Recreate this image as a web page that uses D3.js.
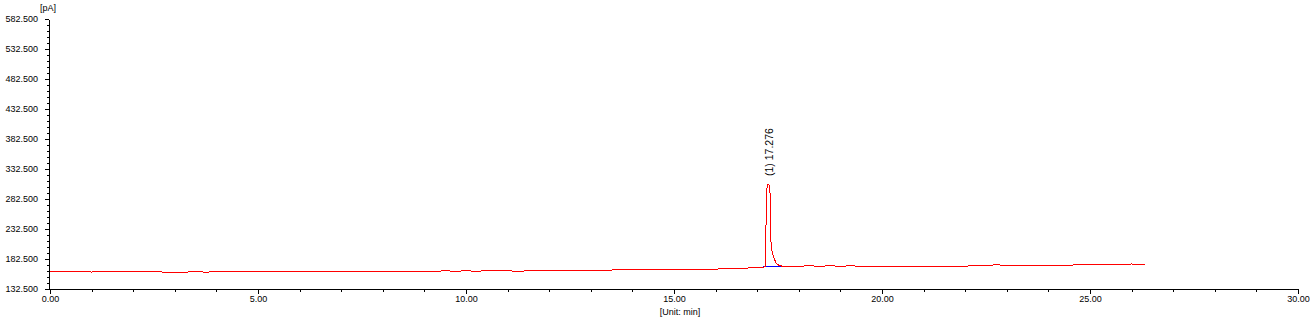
<!DOCTYPE html>
<html>
<head>
<meta charset="utf-8">
<script src="https://cdn.jsdelivr.net/npm/d3@7"></script>
<style>
  html, body { margin: 0; padding: 0; background: #fff; }
  svg { display: block; }
  text { font-family: "Liberation Sans", Arial, sans-serif; }
</style>
</head>
<body>
<svg id="chart" width="1316" height="324"></svg>
<script>
// ---- data ----
const yUnit = "[pA]";
const xUnit = "[Unit: min]";
const yTicks = [132.5, 182.5, 232.5, 282.5, 332.5, 382.5, 432.5, 482.5, 532.5, 582.5];
const xTicks = [0, 5, 10, 15, 20, 25, 30];
const peakTime = 17.276;
const peakLabel = "(1) 17.276";
const peakBaseTimes = [17.15, 17.57];
const peakBaseValues = [170.3, 170.3];

const times = [
  0.00, 0.25, 0.50, 0.75, 1.00, 1.25, 1.50, 1.75, 2.00, 2.25, 2.50, 2.75, 3.00, 3.25, 3.50, 3.75, 4.00,
  4.05, 4.25, 4.50, 4.75, 5.00, 5.25, 5.50, 5.75, 6.00, 6.25, 6.50, 6.75, 7.00, 7.25, 7.50, 7.75,
  8.00, 8.25, 8.50, 8.75, 9.00, 9.25, 9.50, 9.75, 10.00, 10.25, 10.50, 10.75, 11.00, 11.25, 11.50,
  11.75, 12.00, 12.25, 12.50, 12.55, 12.75, 13.00, 13.25, 13.50, 13.75, 14.00, 14.25, 14.50, 14.75,
  15.00, 15.25, 15.50, 15.75, 16.00, 16.10, 16.25, 16.50, 16.75, 16.80, 17.00, 17.15,
  17.19, 17.205, 17.23, 17.255, 17.276, 17.295, 17.31, 17.325, 17.36, 17.40, 17.45, 17.52, 17.60,
  17.75, 18.00, 18.25, 18.50, 18.75, 19.00, 19.25, 19.50, 19.75, 20.00, 20.25, 20.50, 20.75, 21.00,
  21.25, 21.50, 21.75, 22.00, 22.20, 22.50, 22.75, 23.00, 23.25, 23.50, 23.75, 24.00, 24.25, 24.50,
  24.60, 24.75, 25.00, 25.25, 25.50, 25.75, 26.00, 26.10, 26.32
];
const signal = [
  160.9, 161.8, 160.8, 161.7, 160.8, 161.8, 160.9, 161.7, 160.8, 161.8, 160.9, 160.8, 160.8, 160.8, 160.9, 160.8, 160.9,
  161.9, 161.9, 161.9, 161.0, 161.9, 161.9, 161.9, 162.0, 161.0, 161.9, 161.9, 162.0, 161.9, 161.9, 161.9, 161.9,
  162.0, 161.9, 161.9, 161.9, 162.0, 161.9, 162.9, 162.0, 162.9, 162.1, 162.9, 162.9, 162.9, 162.0, 162.9,
  162.9, 162.9, 162.9, 163.0, 164.1, 164.1, 164.1, 164.1, 164.1, 165.2, 164.2, 165.4, 165.2, 165.3,
  165.3, 165.3, 165.3, 165.3, 165.3, 166.4, 166.4, 166.4, 166.5, 168.6, 168.6, 168.7,
  170.0, 215.0, 300.0, 306.5, 307.5, 304.0, 290.0, 215.0, 193.0, 185.0, 176.0, 172.0, 170.5,
  170.3, 170.4, 171.2, 170.3, 171.3, 170.3, 171.2, 170.3, 170.3, 170.4, 170.3, 170.3, 170.3, 170.4,
  170.3, 170.3, 170.4, 170.3, 171.9, 171.9, 172.8, 171.9, 171.9, 171.9, 172.0, 171.9, 171.9, 171.9,
  172.6, 172.6, 172.6, 173.4, 172.6, 173.5, 174.2, 173.3, 173.6
];

// ---- chart ----
const svg = d3.select("#chart");
const x = d3.scaleLinear().domain([0, 30]).range([50, 1298]);
const y = d3.scaleLinear().domain([132.5, 582.5]).range([289, 19]);

const xMinor = d3.range(0, 31).filter(d => d % 5 !== 0);
const yMinor = d3.range(142.5, 582.5, 10).filter(d => !yTicks.some(t => Math.abs(t - d) < 1e-6));

// minor ticks
svg.append("g").attr("transform", "translate(0,289)")
  .call(d3.axisBottom(x).tickValues(xMinor).tickSize(3).tickSizeOuter(0).tickFormat(""))
  .call(g => g.select(".domain").remove());
svg.append("g").attr("transform", "translate(49,0)")
  .call(d3.axisLeft(y).tickValues(yMinor).tickSize(2).tickSizeOuter(0).tickFormat(""))
  .call(g => g.select(".domain").remove());

// major axes
const gx = svg.append("g").attr("transform", "translate(0,289)")
  .call(d3.axisBottom(x).tickValues(xTicks).tickSize(5).tickSizeOuter(0).tickPadding(2).tickFormat(d3.format(".2f")));
const gy = svg.append("g").attr("transform", "translate(49,0)")
  .call(d3.axisLeft(y).tickValues(yTicks).tickSize(4).tickSizeOuter(0).tickPadding(7).tickFormat(d3.format(".3f")));

[gx, gy].forEach(g => {
  g.selectAll("text").attr("font-size", 9).attr("fill", "#000").attr("font-family", "Liberation Sans, Arial, sans-serif");
  g.selectAll("line, path").attr("stroke", "#000").attr("shape-rendering", "crispEdges");
});
gx.select(".domain").attr("d", `M${x(0) - 1},0.5H${x(30) + 0.5}`);
svg.selectAll("g line").attr("stroke", "#000").attr("shape-rendering", "crispEdges");

// unit labels
svg.append("text").attr("x", 40).attr("y", 11).attr("font-size", 9).text(yUnit);
svg.append("text").attr("x", 680).attr("y", 315).attr("font-size", 9).attr("text-anchor", "middle").text(xUnit);

const line = d3.line().x(d => x(d[0])).y(d => y(d[1]));

// peak baseline (under the trace)
svg.append("path").datum(peakBaseTimes.map((t, i) => [t, peakBaseValues[i]]))
  .attr("d", line).attr("fill", "none").attr("stroke", "#0000ff").attr("stroke-width", 1)
  .attr("shape-rendering", "crispEdges");

// trace
const pts = times.map((t, i) => [t, signal[i]]);
svg.append("path").datum(pts)
  .attr("d", line).attr("fill", "none").attr("stroke", "#ff0000").attr("stroke-width", 1)
  .attr("shape-rendering", "crispEdges");

// peak label
const peakVal = d3.max(signal);
svg.append("text")
  .attr("transform", `translate(${x(peakTime) + 4},${y(peakVal) - 8}) rotate(-90)`)
  .attr("font-size", 10.5).attr("fill", "#000").text(peakLabel);
</script>
</body>
</html>
